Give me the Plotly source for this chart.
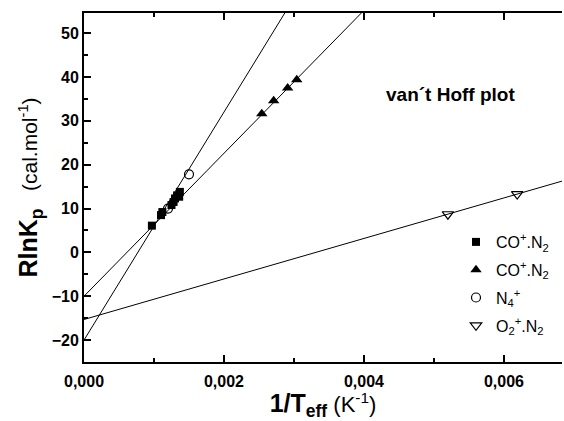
import plotly.graph_objects as go

# --- data ---
sq_x = [0.00097, 0.00110, 0.00112, 0.00125, 0.00128, 0.00130, 0.00133, 0.00136, 0.00137]
sq_y = [6.1, 8.5, 9.2, 10.8, 11.5, 12.3, 13.0, 12.7, 13.8]
tri_x = [0.00254, 0.00271, 0.00291, 0.00304]
tri_y = [31.6, 34.6, 37.5, 39.4]
circ_x = [0.00120, 0.00150]
circ_y = [10.0, 17.8]
dtri_x = [0.00520, 0.00619]
dtri_y = [8.7, 13.3]

# fitted lines: intercepts and slopes
line_intercepts = [-20.0, -10.0, -15.3]
line_slopes = [26000.0, 16300.0, 4620.0]
x_range = [0.0, 0.00683]
y_range = [-25.0, 54.6]

font_family = "Arial, Liberation Sans, sans-serif"

fig = go.Figure()

for b, m in zip(line_intercepts, line_slopes):
    x0 = 0.0
    x1 = min(x_range[1], (y_range[1] - b) / m)
    fig.add_trace(go.Scatter(x=[x0, x1], y=[b + m * x0, b + m * x1], mode="lines",
                             line=dict(color="black", width=1), showlegend=False,
                             hoverinfo="skip"))

fig.add_trace(go.Scatter(x=sq_x, y=sq_y, mode="markers", name="CO<sup>+</sup>.N<sub>2</sub>",
                         legendgroup="a",
                         marker=dict(symbol="square", size=8, color="black")))
fig.add_trace(go.Scatter(x=tri_x, y=tri_y, mode="markers", name="CO<sup>+</sup>.N<sub>2</sub>",
                         legendgroup="b",
                         marker=dict(symbol="triangle-up", size=10, color="black")))
fig.add_trace(go.Scatter(x=circ_x, y=circ_y, mode="markers", name="N<sub>4</sub><sup>+</sup>",
                         legendgroup="c",
                         marker=dict(symbol="circle-open", size=9, color="black",
                                     line=dict(width=1.2, color="black"))))
fig.add_trace(go.Scatter(x=dtri_x, y=dtri_y, mode="markers", name="O<sub>2</sub><sup>+</sup>.N<sub>2</sub>",
                         legendgroup="d",
                         marker=dict(symbol="triangle-down-open", size=10, color="black",
                                     line=dict(width=1.2, color="black"))))

fig.add_annotation(text="<b>van´t Hoff plot</b>", xref="paper", yref="paper",
                   x=(384 - 84) / 478, y=1 - (94 - 13) / 349, xanchor="left", yanchor="middle",
                   showarrow=False, font=dict(size=19, color="black", family=font_family))

axis_common = dict(showline=True, linecolor="black", linewidth=2,
                   ticks="inside", ticklen=7, tickwidth=1.5, tickcolor="black",
                   showgrid=False, zeroline=False,
                   tickfont=dict(size=16, color="black", family=font_family, weight="bold"))

fig.update_xaxes(range=x_range, dtick=0.002, tick0=0, tickformat=".3f", mirror="ticks",
                 ticklabelstandoff=4,
                 minor=dict(ticks="inside", ticklen=4, tickcolor="black", dtick=0.001, tick0=0),
                 title=dict(text="<b><span style='font-size:25px'>1/T<sub>eff</sub></span></b> (K<sup>-1</sup>)",
                            standoff=6,
                            font=dict(size=22, color="black", family=font_family)),
                 **axis_common)
fig.update_yaxes(range=y_range, dtick=10, tick0=0, mirror=False,
                 minor=dict(ticks="inside", ticklen=4, tickcolor="black", dtick=5, tick0=0),
                 title=dict(text="<b><span style='font-size:25px'>RlnK<sub>p</sub></span></b>   (cal.mol<sup>-1</sup>)",
                            standoff=8,
                            font=dict(size=21, color="black", family=font_family)),
                 **axis_common)

fig.update_layout(width=564, height=421, margin=dict(l=84, r=2, t=13, b=59),
                  plot_bgcolor="white", paper_bgcolor="white",
                  separators=",.",
                  font=dict(family=font_family, color="black", size=16),
                  legend=dict(x=(456 - 84) / 478, y=1 - (225 - 13) / 349, xanchor="left", yanchor="top",
                              bgcolor="rgba(0,0,0,0)", font=dict(size=16, family=font_family),
                              itemwidth=30, tracegroupgap=4, traceorder="grouped"))

fig.write_html("out.html")
